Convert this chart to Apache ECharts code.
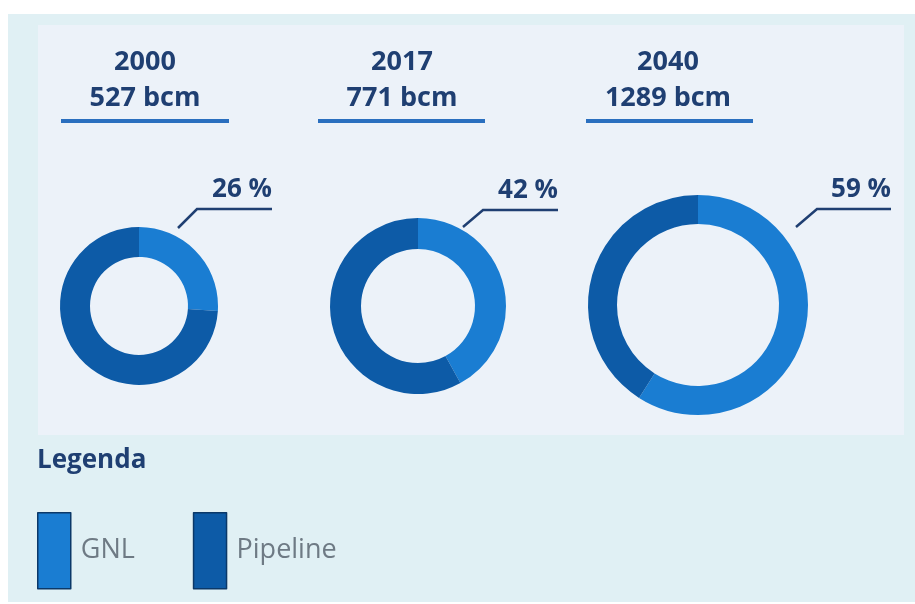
<!DOCTYPE html>
<html>
<head>
<meta charset="utf-8">
<script src="https://cdn.jsdelivr.net/npm/echarts@6/dist/echarts.min.js"></script>
<style>
  html, body { margin: 0; padding: 0; background: #ffffff; }
  #chart { width: 915px; height: 604px; }
</style>
</head>
<body>
<div id="chart"></div>
<script>
// Gas import mix: share of LNG (GNL) vs pipeline gas in total volume
const years = ['2000', '2017', '2040'];
const totalsBcm = [527, 771, 1289];
const gnlShare = [26, 42, 59];          // percent of total
const seriesNames = ['GNL', 'Pipeline'];

// Layout of each ring (centre, radii) and of its callout
const rings = [
  { cx: 139, cy: 306, r0: 49, r1: 79, titleX: 145, lineX: [61, 229],
    lead: [[178, 228], [197, 209], [272, 209]] },
  { cx: 418, cy: 306, r0: 57, r1: 88, titleX: 402, lineX: [318, 485],
    lead: [[463, 227], [483, 210], [558, 210]] },
  { cx: 698, cy: 305, r0: 81, r1: 110, titleX: 668, lineX: [586, 753],
    lead: [[796, 227], [817, 209], [891, 209]] }
];

const COLOR_GNL = '#1a7dd2';
const COLOR_PIPE = '#0d5ba7';
const NAVY = '#1f3f72';
const FONT = '"Open Sans", "Noto Sans", Roboto, sans-serif';

const chart = echarts.init(document.getElementById('chart'), null, { renderer: 'canvas' });

const series = years.map((y, i) => ({
  type: 'pie',
  name: y,
  center: [rings[i].cx, rings[i].cy],
  radius: [rings[i].r0, rings[i].r1],
  startAngle: 90,
  clockwise: true,
  silent: true,
  label: { show: false },
  labelLine: { show: false },
  emphasis: { disabled: true },
  itemStyle: { borderWidth: 0 },
  data: [
    { name: seriesNames[0], value: gnlShare[i], itemStyle: { color: COLOR_GNL } },
    { name: seriesNames[1], value: 100 - gnlShare[i], itemStyle: { color: COLOR_PIPE } }
  ]
}));

const graphics = [
  // outer panel
  { type: 'rect', z: -10, shape: { x: 8, y: 14, width: 907, height: 588 },
    style: { fill: '#e0f0f4' }, silent: true },
  // chart area panel
  { type: 'rect', z: -9, shape: { x: 38, y: 25, width: 866, height: 410 },
    style: { fill: '#ecf2f9' }, silent: true },
  // legend heading
  { type: 'text', x: 37, y: 461,
    style: { text: 'Legenda', font: 'bold 26px ' + FONT, fill: NAVY, verticalAlign: 'middle' } }
];

years.forEach((y, i) => {
  const L = rings[i];
  graphics.push(
    { type: 'text', x: L.titleX, y: 62,
      style: { text: y, font: 'bold 27px ' + FONT, fill: NAVY, align: 'center', verticalAlign: 'middle' } },
    { type: 'text', x: L.titleX, y: 98,
      style: { text: totalsBcm[i] + ' bcm', font: 'bold 27px ' + FONT, fill: NAVY, align: 'center', verticalAlign: 'middle' } },
    { type: 'rect', shape: { x: L.lineX[0], y: 119, width: L.lineX[1] - L.lineX[0], height: 4 },
      style: { fill: '#2a6fbf' } },
    { type: 'polyline', shape: { points: L.lead },
      style: { stroke: NAVY, lineWidth: 2.5, fill: null } },
    { type: 'text', x: L.lead[2][0], y: L.lead[2][1] - 19,
      style: { text: gnlShare[i] + ' %', font: 'bold 26px ' + FONT, fill: NAVY, align: 'right', verticalAlign: 'middle' } }
  );
});

chart.setOption({
  backgroundColor: '#ffffff',
  animation: false,
  legend: {
    left: 37,
    top: 512,
    padding: 0,
    orient: 'horizontal',
    icon: 'rect',
    itemWidth: 33,
    itemHeight: 76,
    itemGap: 58,
    selectedMode: false,
    data: seriesNames,
    itemStyle: { borderColor: '#0b3868', borderWidth: 1.5 },
    textStyle: { color: '#6e7a84', fontSize: 27, fontFamily: FONT, padding: [0, 0, 0, 5] }
  },
  series: series,
  graphic: graphics
});
</script>
</body>
</html>
